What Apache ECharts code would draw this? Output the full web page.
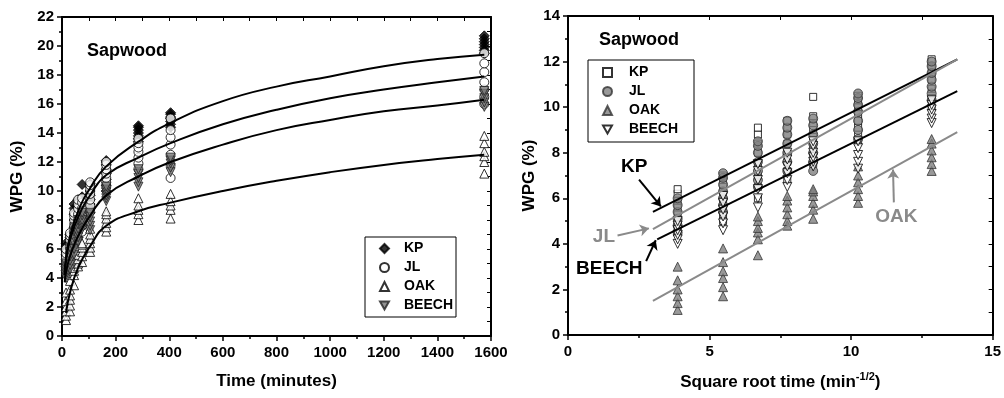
<!DOCTYPE html>
<html><head><meta charset="utf-8">
<script src="https://cdn.jsdelivr.net/npm/echarts@6/dist/echarts.min.js"></script>
<style>html,body{margin:0;padding:0;background:#fff}#c{width:1004px;height:398px}</style>
</head><body><div id="c"></div>
<script>
// ---- data ----
const times = [15, 30, 45, 60, 75, 105, 165, 285, 405, 1575];
const kpWPG = [
  [4.5, 4.8, 5.0, 5.3, 5.6, 5.9, 6.2, 6.4],
  [5.0, 5.3, 5.6, 5.9, 6.2, 6.5, 6.8, 7.0],
  [6.0, 6.5, 7.0, 7.5, 8.0, 8.4, 8.8, 9.1],
  [6.8, 7.2, 7.6, 8.0, 8.4, 8.8, 9.1, 9.4],
  [7.5, 7.9, 8.3, 8.7, 9.0, 9.3, 9.6, 10.45],
  [8.5, 8.8, 9.1, 9.4, 9.7, 10.0, 10.3, 10.5],
  [10.0, 10.4, 10.8, 11.2, 11.5, 11.8, 12.0, 12.1],
  [13.4, 13.6, 13.8, 14.0, 14.2, 14.4, 14.5],
  [14.4, 14.6, 14.8, 15.0, 15.1, 15.3, 15.4],
  [19.5, 19.7, 19.9, 20.1, 20.3, 20.5, 20.7]
];
const jlWPG = [
  [4.5, 4.8, 5.1, 5.4, 5.7, 6.0],
  [5.4, 5.7, 6.0, 6.3, 6.6, 6.9, 7.1],
  [6.5, 6.8, 7.2, 7.6, 8.0, 8.3, 8.5],
  [7.2, 7.6, 8.0, 8.4, 8.8, 9.1, 9.4],
  [7.2, 7.6, 8.0, 8.4, 8.8, 9.2, 9.5],
  [8.6, 9.0, 9.4, 9.8, 10.1, 10.4, 10.6],
  [10.3, 10.6, 10.9, 11.2, 11.5, 11.8, 12.0],
  [11.5, 11.9, 12.3, 12.7, 13.0, 13.3, 13.6],
  [10.9, 11.8, 12.5, 13.2, 13.7, 14.2, 15.0],
  [16.0, 16.5, 17.0, 17.5, 18.2, 18.8, 19.5]
];
const oakWPG = [
  [1.1, 1.4, 1.7, 2.0, 2.4, 3.0],
  [1.7, 2.1, 2.5, 2.8, 3.2, 3.8],
  [3.5, 4.2, 4.5, 4.7, 5.0, 5.2],
  [4.8, 5.0, 5.3, 5.6, 5.9, 6.1],
  [5.1, 5.5, 5.8, 6.1, 6.3, 6.4],
  [5.8, 6.1, 6.4, 6.7, 7.0, 7.4],
  [7.2, 7.5, 7.8, 8.1, 8.4, 8.6],
  [8.0, 8.4, 8.7, 9.0, 9.5],
  [8.1, 8.7, 9.0, 9.3, 9.8],
  [11.2, 12.0, 12.4, 12.7, 13.3, 13.8]
];
const beechWPG = [
  [4.0, 4.2, 4.4, 4.6, 4.8, 5.0],
  [4.6, 4.9, 5.2, 5.5, 5.8, 6.1],
  [5.6, 6.0, 6.4, 6.8, 7.2, 7.5],
  [6.5, 6.8, 7.1, 7.4, 7.7, 8.0],
  [7.4, 7.6, 7.8, 8.0, 8.3, 8.5],
  [7.3, 7.6, 7.9, 8.2, 8.5],
  [9.3, 9.5, 9.7, 9.9, 10.1, 10.3],
  [10.3, 10.6, 10.9, 11.2, 11.5],
  [11.3, 11.6, 11.9, 12.1, 12.3],
  [15.8, 16.1, 16.4, 16.7, 16.9]
];
// fitted curves on the time plot [minutes, WPG]
const kpCurve = [[10,4.3],[15,5.4],[30,6.9],[60,8.6],[105,10.2],[165,11.7],[285,13.4],[405,14.7],[600,16.2],[800,17.2],[1000,17.9],[1200,18.6],[1400,19.1],[1575,19.4]];
const jlCurve = [[10,4.2],[15,5.2],[30,6.6],[60,8.2],[105,9.7],[165,11.1],[285,12.3],[405,13.3],[600,14.6],[800,15.6],[1000,16.4],[1200,17.0],[1400,17.5],[1575,17.9]];
const beechCurve = [[10,3.7],[15,4.4],[30,5.5],[60,6.9],[105,8.3],[165,9.7],[285,11.0],[405,12.0],[600,13.2],[800,14.2],[1000,14.9],[1200,15.5],[1400,15.9],[1575,16.3]];
const oakCurve = [[15,1.6],[30,3.0],[60,4.7],[105,6.2],[165,7.6],[285,8.6],[405,9.2],[600,10.0],[800,10.7],[1000,11.3],[1200,11.8],[1400,12.2],[1575,12.5]];
// fitted lines on the square-root plot [sqrt(min), WPG]
const kpLine = [[3.0, 5.4], [13.75, 12.1]];
const jlLine = [[3.0, 4.65], [13.75, 12.1]];
const beechLine = [[3.15, 4.2], [13.75, 10.7]];
const oakLine = [[3.0, 1.5], [13.75, 8.9]];
const seriesNames = ['KP', 'JL', 'OAK', 'BEECH'];
const sqrtCount = 7; // only the first 7 times appear on the square-root plot

// ---- build ----
function timePts(arr){ const out=[]; arr.forEach((col,i)=>col.forEach(v=>out.push([times[i], v]))); return out; }
function sqrtPts(arr){ const out=[]; arr.slice(0,sqrtCount).forEach((col,i)=>col.forEach(v=>out.push([Math.sqrt(times[i]), v]))); return out; }

const F = 'Liberation Sans, Arial, sans-serif';
const GRAY = '#8a8a8a';
const DOWN = 'path://M0,0L10,0L5,9Z';
const chart = echarts.init(document.getElementById('c'));

const labelStyle = {color: '#000', fontFamily: F, fontWeight: 'bold', fontSize: 15, formatter: v => String(v)};
const axisCommon = {
  axisLine: {show: true, onZero: false, lineStyle: {color: '#000', width: 2}},
  axisTick: {show: true, length: 5, lineStyle: {color: '#000', width: 1.5}},
  minorTick: {show: true, splitNumber: 2, length: 3, lineStyle: {color: '#000', width: 1.5}},
  splitLine: {show: false},
  nameTextStyle: {color: '#000', fontFamily: F, fontWeight: 'bold', fontSize: 17}
};
function ax(extra){ return Object.assign({}, JSON.parse(JSON.stringify(axisCommon)), extra); }
function mirror(gi, pos, min, max, interval){
  return {type: 'value', gridIndex: gi, position: pos, min, max, interval,
    axisLine: {show: true, onZero: false, lineStyle: {color: '#000', width: 2}},
    axisTick: {show: true, inside: true, length: 4, lineStyle: {color: '#000', width: 1}},
    minorTick: {show: false}, splitLine: {show: false}, axisLabel: {show: false}};
}

const lineCurve = (name, data, color, xi, yi) => ({
  name: name + '_fit', type: 'line', data, xAxisIndex: xi, yAxisIndex: yi, smooth: true,
  showSymbol: false, symbol: 'none', lineStyle: {color, width: 2}, silent: true, z: 3
});
const arrowLine = (from, to) => [{coord: from}, {coord: to}];
const annot = (text, at, color, arrow) => ({
  markLine: {silent: true, symbol: ['none', 'arrow'], symbolSize: 9, label: {show: false},
    lineStyle: {color, width: 2, type: 'solid'}, data: [arrow]},
  markPoint: {silent: true, symbol: 'rect', symbolSize: 1, itemStyle: {color: 'rgba(0,0,0,0)'},
    label: {show: true, position: 'inside', formatter: text, fontFamily: F, fontWeight: 'bold', fontSize: 19, color},
    data: [{coord: at}]}
});

const option = {
  animation: false,
  backgroundColor: '#fff',
  title: [
    {text: 'Sapwood', left: 82, top: 37, textStyle: {fontFamily: F, fontWeight: 'bold', fontSize: 18, color: '#000'}},
    {text: 'Sapwood', left: 594, top: 26, textStyle: {fontFamily: F, fontWeight: 'bold', fontSize: 18, color: '#000'}}
  ],
  legend: [
    {data: seriesNames, orient: 'vertical', left: 365, top: 237, padding: [4, 3, 4, 14], itemGap: 4,
     itemWidth: 9, itemHeight: 9, borderColor: '#000', borderWidth: 1,
     textStyle: {fontFamily: F, fontWeight: 'bold', fontSize: 14, color: '#000', lineHeight: 15, padding: [0, 0, 0, 10]}},
    {data: seriesNames.map(n => n + ' '), orient: 'vertical', left: 588, top: 60, padding: [5, 16, 5, 14], itemGap: 4,
     itemWidth: 9, itemHeight: 9, borderColor: '#000', borderWidth: 1,
     formatter: n => n.trim(),
     textStyle: {fontFamily: F, fontWeight: 'bold', fontSize: 14, color: '#000', lineHeight: 15, padding: [0, 0, 0, 12]}}
  ],
  grid: [
    {left: 62, right: 513, top: 17, bottom: 62},
    {left: 568, right: 6, top: 16, bottom: 62}
  ],
  xAxis: [
    ax({type: 'value', gridIndex: 0, min: 0, max: 1600, interval: 200, name: 'Time (minutes)', nameLocation: 'middle', nameGap: 37,
        axisLabel: Object.assign({}, labelStyle, {margin: 9})}),
    ax({type: 'value', gridIndex: 1, min: 0, max: 15, interval: 5, name: 'Square root time (min{sup|-1/2})', nameLocation: 'middle', nameGap: 36,
        axisLabel: Object.assign({}, labelStyle, {margin: 9}),
        nameTextStyle: {color: '#000', fontFamily: F, fontWeight: 'bold', fontSize: 17, lineHeight: 22,
          rich: {sup: {fontFamily: F, fontWeight: 'bold', fontSize: 11, verticalAlign: 'top', lineHeight: 22, color: '#000'}}}}),
    mirror(0, 'top', 0, 1600, 100),
    mirror(1, 'top', 0, 15, 2.5)
  ],
  yAxis: [
    ax({type: 'value', gridIndex: 0, min: 0, max: 22, interval: 2, name: 'WPG (%)', nameLocation: 'middle', nameGap: 36,
        axisLabel: Object.assign({}, labelStyle, {margin: 8})}),
    ax({type: 'value', gridIndex: 1, min: 0, max: 14, interval: 2, name: 'WPG (%)', nameLocation: 'middle', nameGap: 30,
        axisLabel: Object.assign({}, labelStyle, {margin: 8})}),
    mirror(0, 'right', 0, 22, 1),
    mirror(1, 'right', 0, 14, 1)
  ],
  series: [
    lineCurve('KP', kpCurve, '#000', 0, 0),
    lineCurve('JL', jlCurve, '#000', 0, 0),
    lineCurve('BEECH', beechCurve, '#000', 0, 0),
    lineCurve('OAK', oakCurve, '#000', 0, 0),
    {name: 'KP', type: 'scatter', xAxisIndex: 0, yAxisIndex: 0, data: timePts(kpWPG), symbol: 'diamond', symbolSize: 10,
     itemStyle: {color: '#000', borderColor: '#000', borderWidth: 1}, z: 2},
    {name: 'JL', type: 'scatter', xAxisIndex: 0, yAxisIndex: 0, data: timePts(jlWPG), symbol: 'circle', symbolSize: 9,
     itemStyle: {color: '#fff', borderColor: '#000', borderWidth: 1}, z: 2},
    {name: 'OAK', type: 'scatter', xAxisIndex: 0, yAxisIndex: 0, data: timePts(oakWPG), symbol: 'triangle', symbolSize: 9,
     itemStyle: {color: '#fff', borderColor: '#000', borderWidth: 1}, z: 2},
    {name: 'BEECH', type: 'scatter', xAxisIndex: 0, yAxisIndex: 0, data: timePts(beechWPG), symbol: DOWN, symbolSize: 9,
     itemStyle: {color: '#777', borderColor: '#222', borderWidth: 1}, z: 2},
    {name: 'KP ', type: 'scatter', xAxisIndex: 1, yAxisIndex: 1, data: sqrtPts(kpWPG), symbol: 'rect', symbolSize: 7,
     itemStyle: {color: '#fff', borderColor: '#000', borderWidth: 1}, z: 2},
    {name: 'JL ', type: 'scatter', xAxisIndex: 1, yAxisIndex: 1, data: sqrtPts(jlWPG), symbol: 'circle', symbolSize: 9,
     itemStyle: {color: '#808080', borderColor: '#333', borderWidth: 1}, z: 2},
    {name: 'OAK ', type: 'scatter', xAxisIndex: 1, yAxisIndex: 1, data: sqrtPts(oakWPG), symbol: 'triangle', symbolSize: 9,
     itemStyle: {color: '#808080', borderColor: '#333', borderWidth: 1}, z: 2},
    {name: 'BEECH ', type: 'scatter', xAxisIndex: 1, yAxisIndex: 1, data: sqrtPts(beechWPG), symbol: DOWN, symbolSize: 9,
     itemStyle: {color: '#fff', borderColor: '#000', borderWidth: 1}, z: 2},
    Object.assign(lineCurve('KP ', kpLine, '#000', 1, 1), annot('KP', [2.34, 7.4], '#000', arrowLine([2.51, 6.82], [3.28, 5.64]))),
    Object.assign(lineCurve('JL ', jlLine, GRAY, 1, 1), annot('JL', [1.27, 4.29], GRAY, arrowLine([1.75, 4.37], [2.86, 4.68]))),
    Object.assign(lineCurve('BEECH ', beechLine, '#000', 1, 1), annot('BEECH', [1.46, 2.89], '#000', arrowLine([2.76, 3.24], [3.1, 4.16]))),
    Object.assign(lineCurve('OAK ', oakLine, GRAY, 1, 1), annot('OAK', [11.6, 5.21], GRAY, arrowLine([11.51, 5.82], [11.48, 7.26])))
  ]
};
chart.setOption(option);
</script>
</body></html>
